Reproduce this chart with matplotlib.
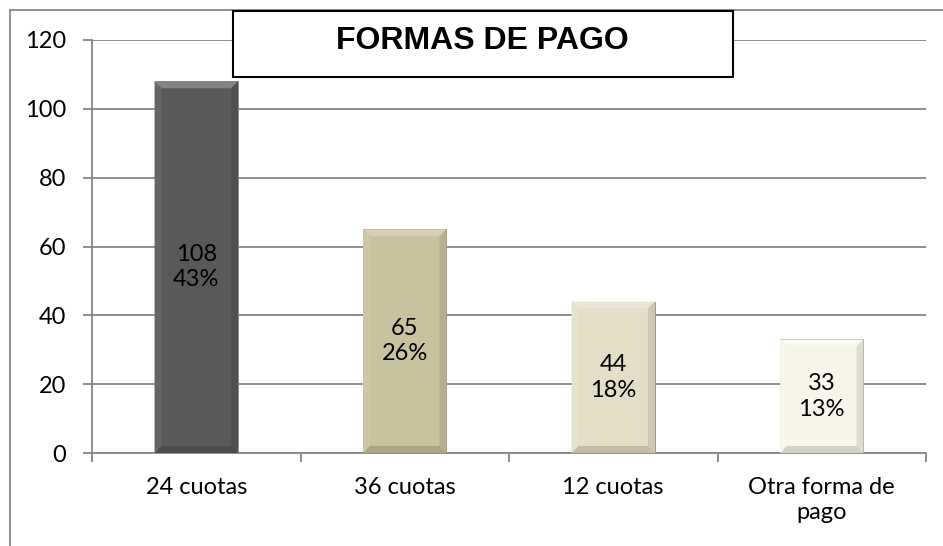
import matplotlib.pyplot as plt
from matplotlib.patches import Rectangle, Polygon
from matplotlib.lines import Line2D
from matplotlib.colors import to_rgb

categorias = ['24 cuotas', '36 cuotas', '12 cuotas', 'Otra forma de\npago']
valores = [108, 65, 44, 33]
porcentajes = ['43%', '26%', '18%', '13%']
colores = ['#595959', '#C9C29E', '#E2DEC8', '#F7F5EA']

plt.rcParams['font.family'] = ['Lato', 'DejaVu Sans']

fig = plt.figure(figsize=(9.43, 5.46), dpi=100)
ax = fig.add_axes([92 / 943, 1 - 453 / 546, 834 / 943, 413 / 546])

x = list(range(len(categorias)))
bars = ax.bar(x, valores, width=0.40, color=colores, zorder=3,
              edgecolor='#8a8a8a', linewidth=0.6)

ax.set_xlim(-0.5, len(categorias) - 0.5)
ax.set_ylim(0, 120)
ax.set_yticks(range(0, 121, 20))
ax.set_xticks(x)
ax.set_xticklabels(categorias, fontsize=17, linespacing=1.27)
ax.tick_params(axis='y', labelsize=17, length=6.5, width=1.3, color='#868686', pad=12)
ax.tick_params(axis='x', length=0, pad=17)
# category boundary ticks on x axis
ax.set_xticks([i - 0.5 for i in range(len(categorias) + 1)], minor=True)
ax.tick_params(axis='x', which='minor', length=6.5, width=1.3, color='#868686')
ax.grid(axis='y', color='#868686', linewidth=1.3, zorder=0)
for s in ['top', 'right']:
    ax.spines[s].set_visible(False)
for s in ['left', 'bottom']:
    ax.spines[s].set_color('#868686')
    ax.spines[s].set_linewidth(1.3)

# bevel look on each bar
fig.canvas.draw()
inv = ax.transData.inverted()
p0 = inv.transform((0, 0))
p1 = inv.transform((7, 7))
dx, dy = p1[0] - p0[0], p1[1] - p0[1]


def mix(c, t, f):
    c = to_rgb(c)
    t = to_rgb(t)
    return tuple(a + (b - a) * f for a, b in zip(c, t))


for b, c in zip(bars, colores):
    x0, w, h = b.get_x(), b.get_width(), b.get_height()
    x1 = x0 + w
    ax.add_patch(Polygon([(x0, h), (x1, h), (x1 - dx, h - dy), (x0 + dx, h - dy)],
                         color=mix(c, 'white', 0.25), zorder=4, lw=0))
    ax.add_patch(Polygon([(x0, 0), (x0 + dx, dy), (x0 + dx, h - dy), (x0, h)],
                         color=mix(c, 'white', 0.08), zorder=4, lw=0))
    ax.add_patch(Polygon([(x1, 0), (x1 - dx, dy), (x1 - dx, h - dy), (x1, h)],
                         color=mix(c, 'black', 0.1), zorder=4, lw=0))
    ax.add_patch(Polygon([(x0, 0), (x1, 0), (x1 - dx, dy), (x0 + dx, dy)],
                         color=mix(c, 'black', 0.15), zorder=4, lw=0))

for i, (v, p) in enumerate(zip(valores, porcentajes)):
    ax.text(i, v / 2, f'{v}\n{p}', ha='center', va='center', fontsize=17,
            color='black', zorder=5, linespacing=1.27)

# chart border (left and top visible)
fig.add_artist(Line2D([10 / 943, 10 / 943], [0, 1 - 10 / 546], color='#868686', lw=1.3))
fig.add_artist(Line2D([10 / 943, 1], [1 - 10 / 546, 1 - 10 / 546], color='#868686', lw=1.3))

# title box
fig.add_artist(Rectangle((233 / 943, 1 - 77 / 546), 500 / 943, 66 / 546,
                         transform=fig.transFigure, facecolor='white',
                         edgecolor='black', linewidth=1.5, zorder=10))
fig.text(482 / 943, 1 - 41 / 546, 'FORMAS DE PAGO', ha='center', va='center',
         fontsize=23, fontweight='bold', family=['Liberation Sans', 'DejaVu Sans'],
         zorder=11)

fig.savefig('out.png', dpi=100)
